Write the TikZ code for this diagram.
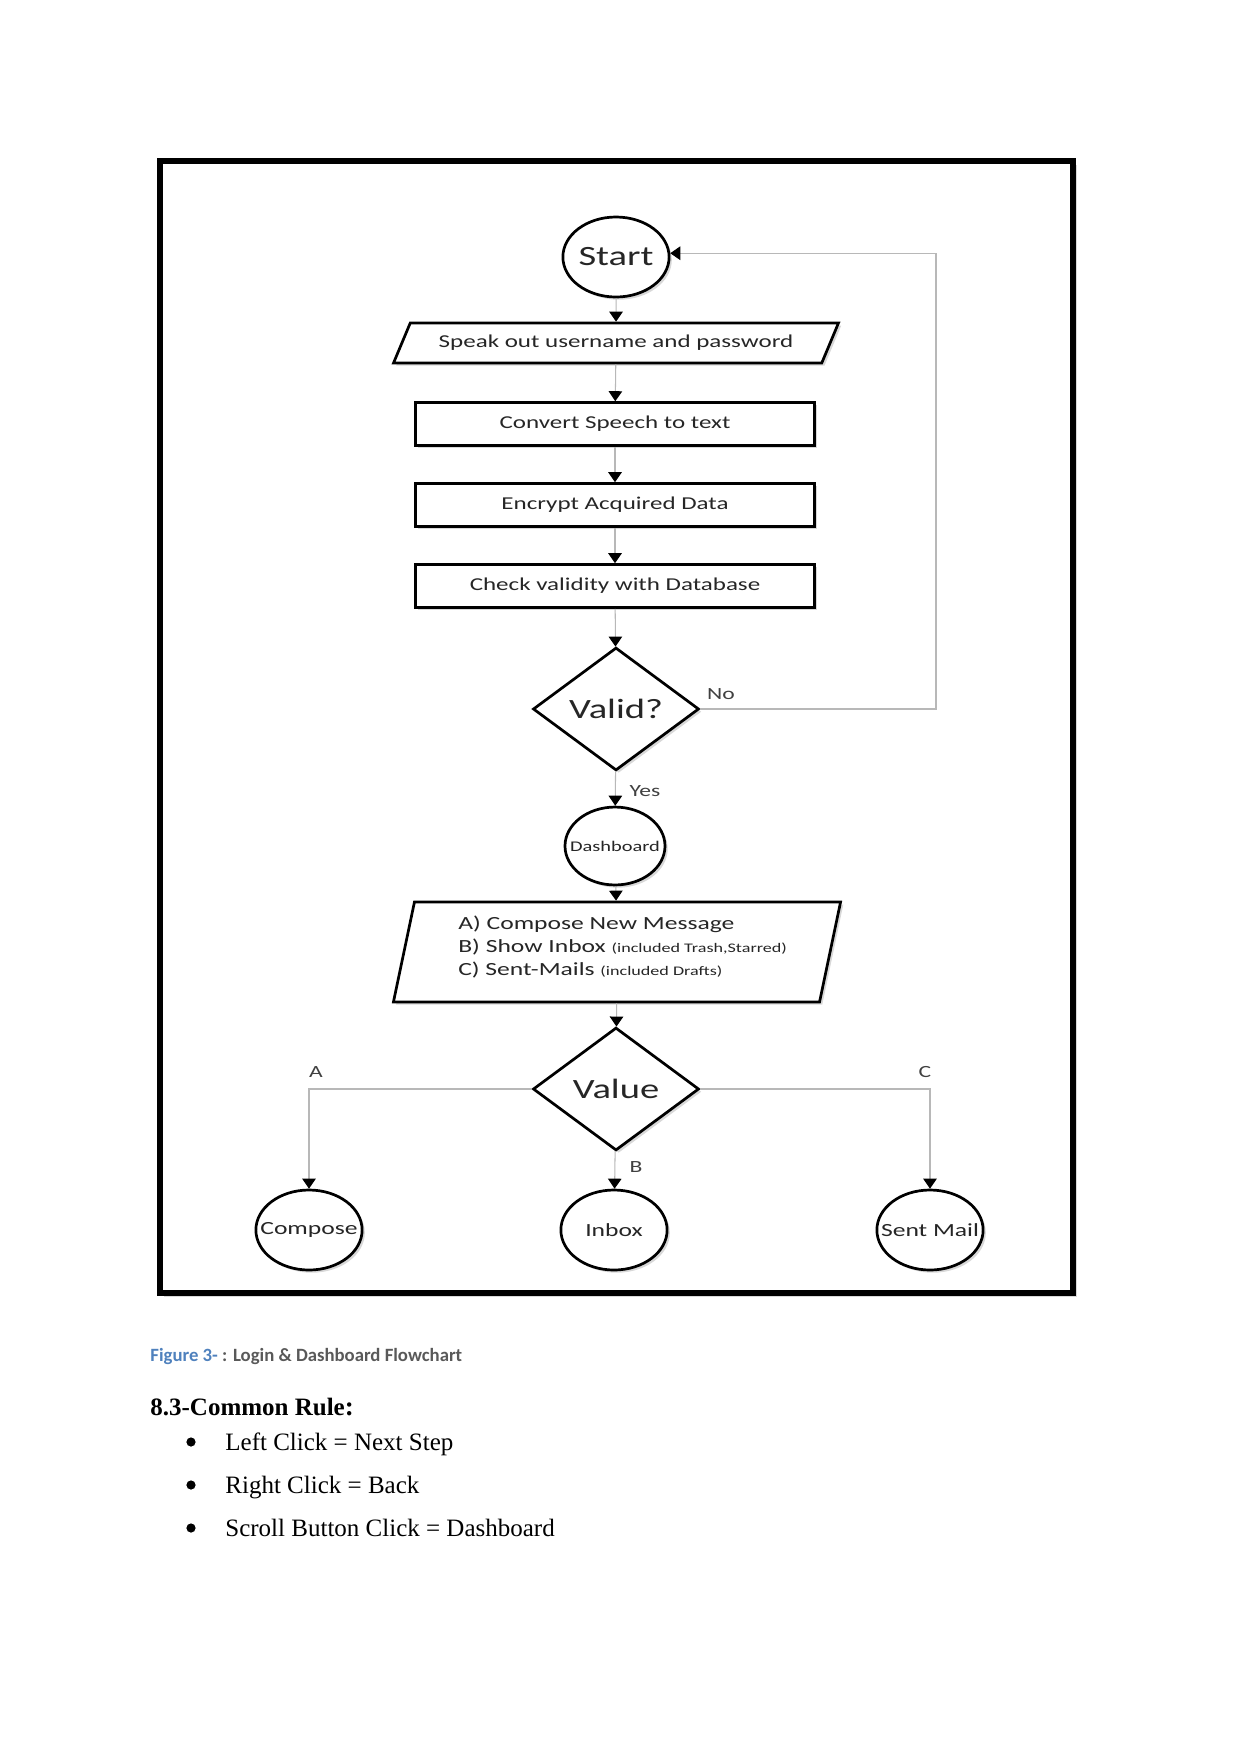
\documentclass[tikz,border=0pt]{standalone}
\usepackage{fontspec}
\setmainfont{Liberation Serif}
\newfontfamily\flowfont[FakeStretch=1.38]{Carlito}
\newfontfamily\capfont{Carlito}
\usepackage{tikz}
\usetikzlibrary{positioning,arrows.meta,shapes.geometric,shadows}
\definecolor{capblue}{HTML}{4F81BD}
\definecolor{capgray}{HTML}{595959}
\newcommand{\termtext}[1]{\makebox[0pt]{#1}}

\begin{document}
\begin{tikzpicture}[x=0.48pt, y=-0.48pt,
  shade/.style={drop shadow={shadow xshift=1.3pt, shadow yshift=-1.3pt, opacity=0.3}},
  term/.style={ellipse, draw, line width=1.3pt, fill=white, shade, inner sep=0pt,
    minimum width=51pt, minimum height=38.4pt, text=black!85},
  procbox/.style={rectangle, draw, line width=1.3pt, fill=white, shade,
    minimum width=191.5pt, minimum height=20.6pt, text=black!85,
    font=\flowfont\fontsize{8.7pt}{10pt}\selectfont},
  iobox/.style={trapezium, draw, line width=1.3pt, fill=white, shade, text=black!85,
    trapezium stretches=true},
  decide/.style={diamond, draw, line width=1.3pt, fill=white, shade, inner sep=0pt,
    minimum width=79.7pt, minimum height=59pt, text=black!85,
    font=\flowfont\fontsize{13.4pt}{15pt}\selectfont},
  flowline/.style={draw=black!28, line width=0.5pt,
    -{Triangle[width=6.5pt, length=4.8pt, color=black]}},
  lbl/.style={font=\flowfont\fontsize{8.2pt}{10pt}\selectfont, text=black!75}]
\useasboundingbox (0,0) rectangle (1241,1754);
\draw[line width=2.9pt, fill=white, drop shadow={shadow xshift=2pt, shadow yshift=-2pt, opacity=0.3}]
  (160,161) rectangle (1073,1293);

% login part
\node[term, font=\flowfont\fontsize{13.4pt}{15pt}\selectfont] (start) at (616,257) {\termtext{Start}};
\node[iobox, trapezium left angle=63, trapezium right angle=117, minimum width=214pt,
  minimum height=19.2pt, font=\flowfont\fontsize{8.7pt}{10pt}\selectfont] (speak) at (616,343)
  {Speak out username and password};
\node[procbox] (convert) at (615,424) {Convert Speech to text};
\node[procbox] (encrypt) at (615,505) {Encrypt Acquired Data};
\node[procbox] (check) at (615,586) {Check validity with Database};
\node[decide] (valid) at (616,709) {Valid?};
\coordinate (loop) at (936,480);

% dashboard part
\node[term, minimum width=48pt, minimum height=37.4pt,
  font=\flowfont\fontsize{7.1pt}{9pt}\selectfont] (dash) at (615,846) {\termtext{Dashboard}};
\node[iobox, trapezium left angle=78, trapezium right angle=102, minimum width=215pt,
  minimum height=48pt, align=left, text depth=6.3pt,
  font=\flowfont\fontsize{8.9pt}{11pt}\selectfont] (menu) at (617,952)
  {\hspace*{5.4pt}A) Compose New Message\\
   \hspace*{5.4pt}B) Show Inbox {\fontsize{6.3pt}{8pt}\selectfont (included Trash,Starred)}\\
   \hspace*{5.4pt}C) Sent-Mails {\fontsize{6.3pt}{8pt}\selectfont (included Drafts)}};
\node[decide] (value) at (616,1089) {Value};
\node[term, font=\flowfont\fontsize{8.9pt}{10pt}\selectfont] (compose) at (309,1230) {\termtext{Compose}};
\node[term, font=\flowfont\fontsize{8.9pt}{10pt}\selectfont] (inbox) at (614,1230) {\termtext{Inbox}};
\node[term, font=\flowfont\fontsize{8.9pt}{10pt}\selectfont] (sent) at (930,1230) {\termtext{Sent Mail}};

\draw[flowline] (start) -- (speak);
\draw[flowline] (speak) -- (convert);
\draw[flowline] (convert) -- (encrypt);
\draw[flowline] (encrypt) -- (check);
\draw[flowline] (check) -- (valid);
\draw[flowline] (valid.east) -| (loop) |- (start.4);
\draw[flowline] (valid) -- (dash);
\draw[flowline] (dash) -- (menu);
\draw[flowline] (menu) -- (value);
\draw[flowline] (value.west) -| (compose.north);
\draw[flowline] (value) -- (inbox);
\draw[flowline] (value.east) -| (sent.north);

\node[lbl] (nolbl) at (721,694) {No};
\node[lbl] (yeslbl) at (645,791) {Yes};
\node[lbl] (albl) at (316,1072) {A};
\node[lbl] (blbl) at (636,1167) {B};
\node[lbl] (clbl) at (925,1072) {C};

% text under the figure
\node[anchor=base west, inner sep=0pt, font=\capfont\bfseries\fontsize{9pt}{11pt}\selectfont] (caption)
  at (150,1361) {\textcolor{capblue}{Figure 3-} \textcolor{capgray}{: Login \& Dashboard Flowchart}};
\node[anchor=base west, inner sep=0pt, font=\bfseries\fontsize{12pt}{14pt}\selectfont] (rule)
  at (150,1415) {8.3-Common Rule{\fontsize{13pt}{14pt}\selectfont:}};
\foreach \t [count=\i] in {Left Click = Next Step, Right Click = Back, Scroll Button Click = Dashboard} {
  \fill (191,1442+43*\i-43) circle (4.6);
  \node[anchor=base west, inner sep=0pt, font=\fontsize{12pt}{14pt}\selectfont] (item\i)
    at (225,1450+43*\i-43) {\t};
}
\end{tikzpicture}
\end{document}
